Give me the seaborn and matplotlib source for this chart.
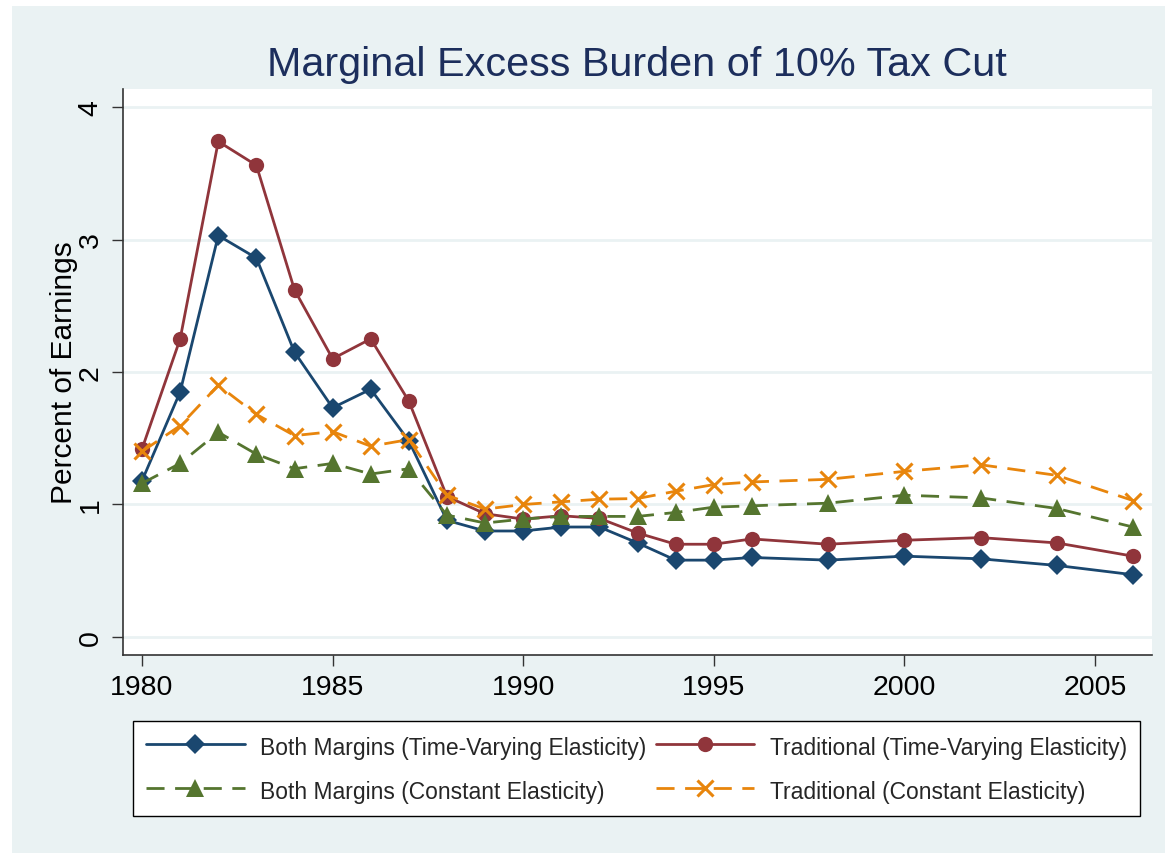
"""
Marginal excess burden of a 10% tax cut, 1980-2006,
drawn in the look of a Stata s2color graph.
"""

import matplotlib
matplotlib.use('Agg')
import matplotlib.pyplot as plt
import seaborn as sns
from matplotlib.patches import Rectangle

years = [1980, 1981, 1982, 1983, 1984, 1985, 1986, 1987, 1988, 1989,
         1990, 1991, 1992, 1993, 1994, 1995, 1996, 1998, 2000, 2002,
         2004, 2006]

both_tv = [1.18, 1.85, 3.03, 2.86, 2.15, 1.73, 1.87, 1.48, 0.88, 0.80,
           0.80, 0.83, 0.83, 0.71, 0.58, 0.58, 0.60, 0.58, 0.61, 0.59,
           0.54, 0.47]
trad_tv = [1.42, 2.25, 3.74, 3.56, 2.62, 2.10, 2.25, 1.78, 1.06, 0.93,
           0.89, 0.915, 0.895, 0.785, 0.70, 0.70, 0.74, 0.70, 0.73, 0.75,
           0.71, 0.61]
both_const = [1.16, 1.31, 1.545, 1.38, 1.27, 1.31, 1.23, 1.27, 0.92, 0.86,
              0.89, 0.91, 0.91, 0.91, 0.94, 0.98, 0.99, 1.01, 1.07, 1.05,
              0.97, 0.83]
trad_const = [1.40, 1.595, 1.90, 1.68, 1.52, 1.55, 1.44, 1.49, 1.07, 0.965,
              1.00, 1.02, 1.04, 1.045, 1.10, 1.15, 1.17, 1.19, 1.25, 1.30,
              1.22, 1.03]

labels = ['Both Margins (Time-Varying Elasticity)',
          'Traditional (Time-Varying Elasticity)',
          'Both Margins (Constant Elasticity)',
          'Traditional (Constant Elasticity)']

x_ticks = [1980, 1985, 1990, 1995, 2000, 2005]
y_ticks = [0, 1, 2, 3, 4]

BG = '#EAF2F3'
NAVY = '#1A476F'
MAROON = '#90353B'
GREEN = '#55752F'
ORANGE = '#E8850C'


def draw_series(ax):
    """
    Draws the four series with seaborn, Stata style markers.
    """
    dash = (0, (6.5, 3.8))
    sns.lineplot(x=years, y=both_tv, ax=ax, color=NAVY, lw=2.0,
                 marker='D', markersize=10.5, mew=0, label=labels[0])
    sns.lineplot(x=years, y=trad_tv, ax=ax, color=MAROON, lw=2.0,
                 marker='o', markersize=11, mew=0, label=labels[1])
    sns.lineplot(x=years, y=both_const, ax=ax, color=GREEN, lw=2.0,
                 linestyle=dash, marker='^', markersize=12.5, mew=0,
                 label=labels[2])
    sns.lineplot(x=years, y=trad_const, ax=ax, color=ORANGE, lw=2.0,
                 linestyle=dash, marker='x', markersize=11, mew=2.2,
                 markeredgecolor=ORANGE, label=labels[3])


def main():
    sns.set_theme(style='white')
    plt.rcParams['font.family'] = ['Liberation Sans', 'DejaVu Sans']

    fig = plt.figure(figsize=(11.65, 8.54), dpi=100, facecolor='white')
    fig.patches.append(Rectangle((12 / 1165, 0), 1, (854 - 7) / 854,
                                 transform=fig.transFigure,
                                 facecolor=BG, edgecolor='none', zorder=-1))

    ax = fig.add_axes([123 / 1165, 1 - 656 / 854, 1029 / 1165, 566 / 854])
    ax.set_facecolor('white')

    draw_series(ax)

    ax.set_xlim(1979.5, 2006.5)
    ax.set_ylim(-0.136, 4.136)
    ax.set_xticks(x_ticks)
    ax.set_yticks(y_ticks)
    ax.yaxis.grid(True, color=BG, lw=2.0)
    ax.set_axisbelow(True)

    for side in ['top', 'right']:
        ax.spines[side].set_visible(False)
    for side in ['left', 'bottom']:
        ax.spines[side].set_color('#333333')
        ax.spines[side].set_linewidth(1.2)

    ax.tick_params(axis='both', direction='out', length=8, width=1.0,
                   color='#333333', labelsize=20.5, labelcolor='black')
    ax.tick_params(axis='x', pad=5.5, bottom=True)
    ax.tick_params(axis='y', labelrotation=90, pad=6, left=True)
    for lab in ax.get_yticklabels():
        lab.set_va('center')

    ax.set_xlabel('')
    ax.set_ylabel('Percent of Earnings', fontsize=21.5, color='black')
    ax.yaxis.set_label_coords(-0.044, 0.5)

    fig.text(0.547, 1 - 76 / 854, 'Marginal Excess Burden of 10% Tax Cut',
             ha='center', va='baseline', fontsize=29.8, color='#1C2E5C')

    handles, texts = ax.get_legend_handles_labels()
    order = [0, 2, 1, 3]
    ax.get_legend().remove()
    leg = fig.legend([handles[i] for i in order], [texts[i] for i in order],
                     ncol=2, loc='upper left',
                     bbox_to_anchor=(133 / 1165, 1 - 722 / 854),
                     borderaxespad=0, fontsize=16.5,
                     handlelength=4.3, handleheight=1.3, handletextpad=0.68,
                     labelspacing=0.8, columnspacing=0.4, borderpad=0.57,
                     fancybox=False, framealpha=1, edgecolor='black')
    leg.get_frame().set_linewidth(1.0)

    fig.savefig('out.png', dpi=100, facecolor='white')


if __name__ == "__main__":
    main()
